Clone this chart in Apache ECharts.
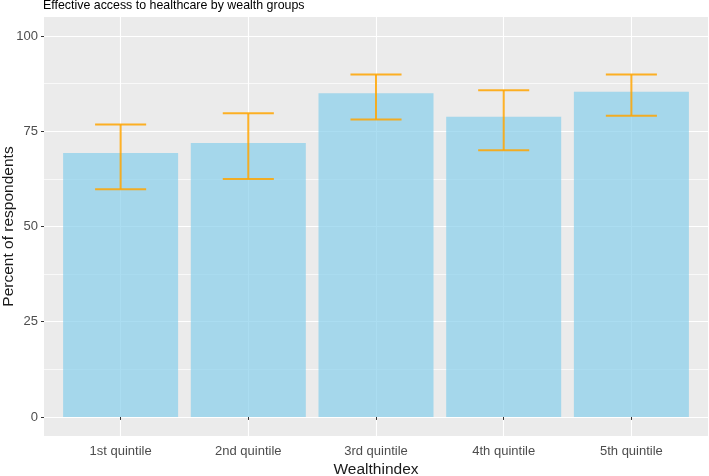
<!DOCTYPE html>
<html>
<head>
<meta charset="utf-8">
<script src="https://cdn.jsdelivr.net/npm/echarts@6/dist/echarts.min.js"></script>
<style>html,body{margin:0;padding:0;background:#fff}#c{width:709px;height:476px}</style>
</head>
<body>
<div id="c"></div>
<script>
const categories = ['1st quintile', '2nd quintile', '3rd quintile', '4th quintile', '5th quintile'];
const percent = [69.3, 71.9, 85.0, 78.8, 85.4];
const lowerCI = [59.8, 62.5, 78.1, 70.0, 79.1];
const upperCI = [76.8, 79.7, 89.9, 85.8, 89.9];
const yMajorTicks = [0, 25, 50, 75, 100];
const yMinorTicks = [12.5, 37.5, 62.5, 87.5];

const positions = categories.map((c, i) => i + 1);
const FONT = 'Liberation Sans, Arial, sans-serif';

const chart = echarts.init(document.getElementById('c'), null, {renderer: 'canvas'});
chart.setOption({
  animation: false,
  backgroundColor: '#ffffff',
  title: {
    text: 'Effective access to healthcare by wealth groups',
    left: 43, top: 0, padding: 0,
    textStyle: {fontFamily: FONT, fontSize: 12.4, fontWeight: 'normal', color: '#000'}
  },
  grid: {
    left: 44, right: 1, top: 17, bottom: 40,
    containLabel: false, outerBoundsMode: 'none',
    show: true, backgroundColor: '#EBEBEB', borderWidth: 0
  },
  xAxis: {
    type: 'value', min: 0.4, max: 5.6,
    name: 'Wealthindex', nameLocation: 'middle', nameGap: 26, nameMoveOverlap: false,
    nameTextStyle: {fontFamily: FONT, fontSize: 15.5, color: '#1a1a1a'},
    axisLine: {show: false},
    axisTick: {show: true, length: 3, customValues: positions, lineStyle: {color: '#333', width: 1}},
    axisLabel: {customValues: positions, margin: 9, fontFamily: FONT, fontSize: 13, color: '#4D4D4D',
      formatter: v => categories[Math.round(v) - 1]},
    splitLine: {show: true, lineStyle: {color: '#ffffff', width: 1.1}}
  },
  yAxis: [{
    type: 'value', min: -5, max: 105,
    name: 'Percent of respondents', nameLocation: 'middle', nameGap: 27, nameRotate: 90, nameMoveOverlap: false,
    nameTextStyle: {fontFamily: FONT, fontSize: 15.5, color: '#1a1a1a'},
    axisLine: {show: false},
    axisTick: {show: true, length: 3, customValues: yMajorTicks, lineStyle: {color: '#333', width: 1}},
    axisLabel: {customValues: yMajorTicks, margin: 6, fontFamily: FONT, fontSize: 13, color: '#4D4D4D'},
    splitLine: {show: true, lineStyle: {color: '#ffffff', width: 1.1}}
  }, {
    type: 'value', min: -5, max: 105, position: 'left',
    axisLine: {show: false},
    axisTick: {show: false, customValues: yMinorTicks},
    axisLabel: {show: false, customValues: yMinorTicks},
    splitLine: {show: true, lineStyle: {color: '#ffffff', width: 0.7}}
  }],
  series: [{
    type: 'bar',
    xAxisIndex: 0, yAxisIndex: 0,
    barWidth: 115,
    itemStyle: {color: 'rgba(135,206,235,0.7)'},
    data: positions.map((p, i) => [p, percent[i]]),
    z: 2
  }, {
    type: 'custom',
    xAxisIndex: 0, yAxisIndex: 0,
    encode: {x: 0, y: [1, 2]},
    data: positions.map((p, i) => [p, lowerCI[i], upperCI[i]]),
    z: 3,
    renderItem: function (params, api) {
      const x = api.value(0);
      const lo = api.coord([x, api.value(1)]);
      const hi = api.coord([x, api.value(2)]);
      const half = api.size([0.4, 0])[0] / 2;
      const style = {stroke: 'rgba(255,165,0,0.85)', lineWidth: 2};
      return {
        type: 'group',
        children: [
          {type: 'line', shape: {x1: hi[0], y1: hi[1], x2: lo[0], y2: lo[1]}, style: style},
          {type: 'line', shape: {x1: hi[0] - half, y1: hi[1], x2: hi[0] + half, y2: hi[1]}, style: style},
          {type: 'line', shape: {x1: lo[0] - half, y1: lo[1], x2: lo[0] + half, y2: lo[1]}, style: style}
        ]
      };
    }
  }]
});
</script>
</body>
</html>
